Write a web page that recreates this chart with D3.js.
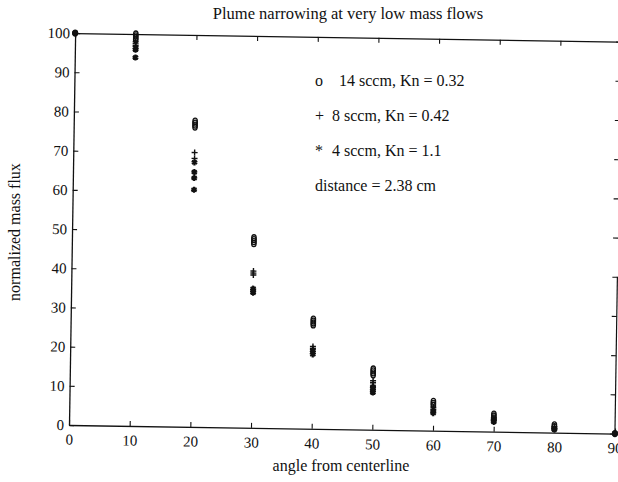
<!DOCTYPE html>
<html>
<head>
<meta charset="utf-8">
<script src="https://cdn.jsdelivr.net/npm/d3@7"></script>
<style>
  body { margin: 0; background: #fff; }
  svg { display: block; }
  text { font-family: "Liberation Serif", "DejaVu Serif", serif; fill: #111; }
</style>
</head>
<body>
<svg id="chart"></svg>
<script>
// angles measured from the centerline (deg)
var angles = [0, 10, 20, 30, 40, 50, 60, 70, 80, 90];

// normalized mass flux, several readings at every angle
var flow14 = [[100], [100, 99.5, 99, 98.5], [78, 77.5, 77, 76.5], [48.5, 48, 47.5, 47], [28, 27.5, 27, 26.5],
              [15.5, 15, 14.5, 14], [7.5, 7, 6.5], [4.5, 4, 3.5], [2, 1.5], [0]];
var flow8  = [[100], [98, 97.5, 97], [70, 68.5], [40, 39.5, 39], [21, 20.5],
              [12.5, 12, 11], [6, 5.5], [3.5, 3], [1.5, 1], [0]];
var flow4  = [[100], [96.5, 96, 94], [67.5, 65, 63.5, 60.5], [35.5, 35, 34.5], [20, 19.5, 19],
              [11, 10.5, 10, 9.5], [5, 4.5], [3, 2.5], [1, 0.8], [0]];

var xTicks = [0, 10, 20, 30, 40, 50, 60, 70, 80, 90];
var yTicks = [0, 10, 20, 30, 40, 50, 60, 70, 80, 90, 100];

var legendSymbols = ["o", "+", "*"];
var legendLabels = ["14 sccm, Kn = 0.32", "8 sccm, Kn = 0.42", "4 sccm, Kn = 1.1"];
var noteText = "distance = 2.38 cm";

var svgWidth = 618, svgHeight = 482;
var plotW = 546, plotH = 392;

var svg = d3.select("#chart")
    .attr("width", svgWidth)
    .attr("height", svgHeight);

// the scanned page is turned a little, so the frame is too
var g = svg.append("g")
    .attr("transform", "translate(69,425) rotate(0.9) translate(0," + (-plotH) + ")");

var x = d3.scaleLinear().domain([0, 90]).range([0, plotW]);
var y = d3.scaleLinear().domain([0, 100]).range([plotH, 0]);

var bottom = g.append("g")
    .attr("transform", "translate(0," + plotH + ")")
    .call(d3.axisBottom(x).tickValues(xTicks).tickSizeInner(-5).tickSizeOuter(0).tickPadding(9));

var left = g.append("g")
    .call(d3.axisLeft(y).tickValues(yTicks).tickSizeInner(-5).tickSizeOuter(0).tickPadding(5));

var top_ = g.append("g")
    .call(d3.axisTop(x).tickValues(xTicks).tickSizeInner(-5).tickSizeOuter(0).tickFormat(""));

var right = g.append("g")
    .attr("transform", "translate(" + plotW + ",0)")
    .call(d3.axisRight(y).tickValues(yTicks).tickSizeInner(-5).tickSizeOuter(0).tickFormat(""));
right.select(".domain").remove();

// only the lower part of the right edge came out in the scan
g.append("line")
    .attr("x1", x(90)).attr("x2", x(90))
    .attr("y1", y(0)).attr("y2", y(40))
    .attr("stroke", "#111").attr("stroke-width", 1.2);

g.selectAll(".domain").attr("stroke", "#111").attr("stroke-width", 1.3);
g.selectAll(".tick line").attr("stroke", "#111").attr("stroke-width", 1.1);
g.selectAll(".tick text").attr("font-size", 15).attr("fill", "#111");

// flatten the readings
function points(series) {
    var out = [];
    for (var i = 0; i < angles.length; i++) {
        for (var j = 0; j < series[i].length; j++) {
            out.push({ a: angles[i], v: series[i][j] });
        }
    }
    return out;
}

g.selectAll(".o")
    .data(points(flow14))
    .enter()
    .append("ellipse")
    .attr("class", "o")
    .attr("cx", function(d) { return x(d.a); })
    .attr("cy", function(d) { return y(d.v); })
    .attr("rx", 2.2)
    .attr("ry", 3)
    .attr("fill", "none")
    .attr("stroke", "#111")
    .attr("stroke-width", 1.3);

g.selectAll(".plus")
    .data(points(flow8))
    .enter()
    .append("path")
    .attr("class", "plus")
    .attr("d", "M-3,0H3M0,-3V3")
    .attr("transform", function(d) { return "translate(" + x(d.a) + "," + y(d.v) + ")"; })
    .attr("stroke", "#111")
    .attr("stroke-width", 1.4);

g.selectAll(".star")
    .data(points(flow4))
    .enter()
    .append("path")
    .attr("class", "star")
    .attr("d", d3.symbol(d3.symbolAsterisk, 26))
    .attr("transform", function(d) { return "translate(" + x(d.a) + "," + y(d.v) + ")"; })
    .attr("stroke", "#111")
    .attr("stroke-width", 2.2);

// end points are solid dots
g.selectAll(".end")
    .data([{ a: 0, v: 100 }, { a: 90, v: 0 }])
    .enter()
    .append("circle")
    .attr("cx", function(d) { return x(d.a); })
    .attr("cy", function(d) { return y(d.v); })
    .attr("r", 3)
    .attr("fill", "#111");

// legend
var legend = svg.append("g");
var legY = [86, 121, 156];
var labelX = [339, 332, 332];
legend.selectAll(".sym")
    .data(legendSymbols)
    .enter()
    .append("text")
    .attr("x", 315)
    .attr("y", function(d, i) { return legY[i]; })
    .attr("font-size", 16)
    .text(function(d) { return d; });
legend.selectAll(".lab")
    .data(legendLabels)
    .enter()
    .append("text")
    .attr("x", function(d, i) { return labelX[i]; })
    .attr("y", function(d, i) { return legY[i]; })
    .attr("font-size", 16)
    .text(function(d) { return d; });
legend.append("text")
    .attr("x", 315)
    .attr("y", 191)
    .attr("font-size", 16)
    .text(noteText);

// titles
svg.append("text")
    .attr("x", 348)
    .attr("y", 19)
    .attr("text-anchor", "middle")
    .attr("font-size", 16.5)
    .text("Plume narrowing at very low mass flows");

svg.append("text")
    .attr("x", 341)
    .attr("y", 471)
    .attr("text-anchor", "middle")
    .attr("font-size", 16)
    .text("angle from centerline");

svg.append("text")
    .attr("transform", "translate(14,232) rotate(-90)")
    .attr("text-anchor", "middle")
    .attr("dy", "0.35em")
    .attr("font-size", 16)
    .text("normalized mass flux");
</script>
</body>
</html>
